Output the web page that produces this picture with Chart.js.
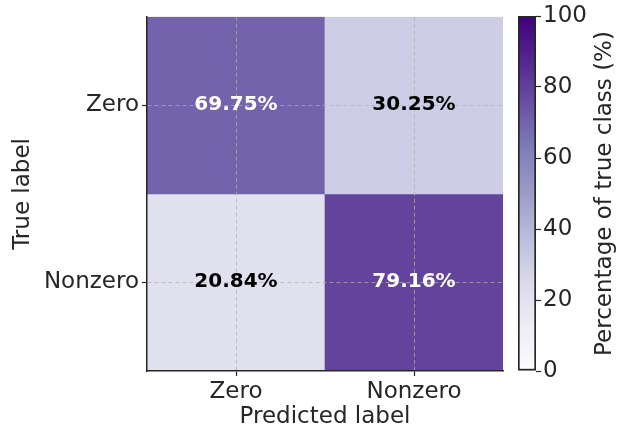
<!DOCTYPE html>
<html>
<head>
<meta charset="utf-8">
<script src="https://cdn.jsdelivr.net/npm/chart.js@4.4.1/dist/chart.umd.min.js"></script>
<style>
  html, body { margin: 0; padding: 0; background: #fff; }
  .wrap { position: absolute; left: 0; top: 0; width: 619px; height: 429px; }
</style>
</head>
<body>
<div class="wrap"><canvas id="cm"></canvas></div>
<div class="wrap"><canvas id="cbar"></canvas></div>
<script>
// confusion matrix, row-normalised (%)
const trueLabels = ['Zero', 'Nonzero']
const predLabels = ['Zero', 'Nonzero']
const rowZero = [69.75, 30.25]
const rowNonzero = [20.84, 79.16]
const rates = [rowZero, rowNonzero]
const cbarTicks = [0, 20, 40, 60, 80, 100]
const cbarTitle = 'Percentage of true class (%)'

const FONT = 'DejaVu Sans'
const INK = '#262626'

// matplotlib "Purples"
const purples = ['#fcfbfd', '#efedf5', '#dadaeb', '#bcbddc', '#9e9ac8', '#807dba', '#6a51a3', '#54278f', '#3f007d']

function hex(c) {
  return [1, 3, 5].map((i) => parseInt(c.slice(i, i + 2), 16))
}

function purple(pct) {
  const t = Math.max(0, Math.min(1, pct / 100)) * (purples.length - 1)
  const i = Math.min(Math.floor(t), purples.length - 2)
  const f = t - i
  const a = hex(purples[i])
  const b = hex(purples[i + 1])
  const m = a.map((v, k) => Math.round(v + (b[k] - v) * f))
  return `rgb(${m[0]},${m[1]},${m[2]})`
}

// one dataset per true-label row, each cell a floating bar spanning the row
const datasets = rates.map((row, i) => ({
  label: trueLabels[i],
  data: row.map(() => [i - 0.5, i + 0.5]),
  backgroundColor: row.map(purple),
  borderWidth: 0,
  grouped: false,
  barPercentage: 1,
  categoryPercentage: 1,
}))

const cellText = {
  id: 'cellText',
  afterDraw(chart) {
    const { ctx, scales } = chart
    ctx.save()
    ctx.font = `bold 20px "${FONT}"`
    ctx.textAlign = 'center'
    ctx.textBaseline = 'middle'
    rates.forEach((row, i) => {
      row.forEach((v, j) => {
        ctx.fillStyle = v > 50 ? '#ffffff' : '#000000'
        ctx.fillText(v.toFixed(2) + '%', scales.x.getPixelForValue(j), scales.y.getPixelForValue(i) - 1)
      })
    })
    ctx.restore()
  },
}

// dashed grid drawn above the cells (z: 1)
const gridOpts = {
  z: 1,
  color: 'rgba(176,176,176,0.7)',
  lineWidth: 1,
  tickColor: INK,
  tickLength: 5,
  tickWidth: 1.2,
  tickBorderDash: [],
  offset: false,
}
// in v4 border.dash is what dashes the grid lines
const borderOpts = { display: true, color: INK, width: 1.5, z: 1, dash: [4, 3] }

new Chart(document.getElementById('cm').getContext('2d'), {
  type: 'bar',
  data: { labels: predLabels, datasets: datasets },
  options: {
    responsive: true,
    maintainAspectRatio: false,
    animation: false,
    layout: { padding: { left: 0, right: 116, top: 16, bottom: 0 } },
    plugins: { legend: { display: false }, tooltip: { enabled: false } },
    scales: {
      x: {
        type: 'category',
        grid: gridOpts,
        border: borderOpts,
        ticks: { color: INK, font: { family: FONT, size: 23 }, padding: 2 },
        title: { display: true, text: 'Predicted label', color: INK, font: { family: FONT, size: 23, lineHeight: 1 }, padding: 0 },
        afterFit(s) { s.height = 58 },
      },
      y: {
        type: 'linear',
        reverse: true,
        min: -0.5,
        max: 1.5,
        grid: gridOpts,
        border: borderOpts,
        afterBuildTicks(s) { s.ticks = trueLabels.map((_, i) => ({ value: i })) },
        ticks: {
          color: INK,
          font: { family: FONT, size: 23 },
          padding: 3,
          callback: (v) => trueLabels[v],
        },
        title: { display: true, text: 'True label', color: INK, font: { family: FONT, size: 23, lineHeight: 1 }, padding: { top: 12 } },
        afterFit(s) { s.width = 147 },
      },
    },
  },
  plugins: [cellText],
})

// colour bar: one floating bar from 0 to 100 filled with the colormap
const cbarLabel = {
  id: 'cbarLabel',
  afterDraw(chart) {
    const { ctx, chartArea } = chart
    ctx.save()
    ctx.translate(605, (chartArea.top + chartArea.bottom) / 2)
    ctx.rotate(-Math.PI / 2)
    ctx.font = `23px "${FONT}"`
    ctx.fillStyle = INK
    ctx.textAlign = 'center'
    ctx.textBaseline = 'middle'
    ctx.fillText(cbarTitle, 0, 0)
    ctx.restore()
  },
}

new Chart(document.getElementById('cbar').getContext('2d'), {
  type: 'bar',
  data: {
    labels: [''],
    datasets: [{
      data: [[cbarTicks[0], cbarTicks[cbarTicks.length - 1]]],
      backgroundColor(c) {
        const area = c.chart.chartArea
        if (!area) return purples[4]
        const g = c.chart.ctx.createLinearGradient(0, area.bottom, 0, area.top)
        purples.forEach((col, i) => g.addColorStop(i / (purples.length - 1), col))
        return g
      },
      borderColor: INK,
      borderWidth: 2,
      borderSkipped: false,
      barPercentage: 1,
      categoryPercentage: 1,
    }],
  },
  options: {
    responsive: true,
    maintainAspectRatio: false,
    animation: false,
    layout: { padding: { left: 518, right: 0, top: 16, bottom: 58 } },
    plugins: { legend: { display: false }, tooltip: { enabled: false } },
    scales: {
      x: { display: false },
      y: {
        position: 'right',
        min: 0,
        max: 100,
        grid: { drawOnChartArea: false, tickColor: INK, tickLength: 5, tickWidth: 1.2 },
        border: { display: false },
        afterBuildTicks(s) { s.ticks = cbarTicks.map((v) => ({ value: v })) },
        ticks: { color: INK, font: { family: FONT, size: 23 }, padding: 2 },
        afterFit(s) { s.width = 83 },
      },
    },
  },
  plugins: [cbarLabel],
})
</script>
</body>
</html>
